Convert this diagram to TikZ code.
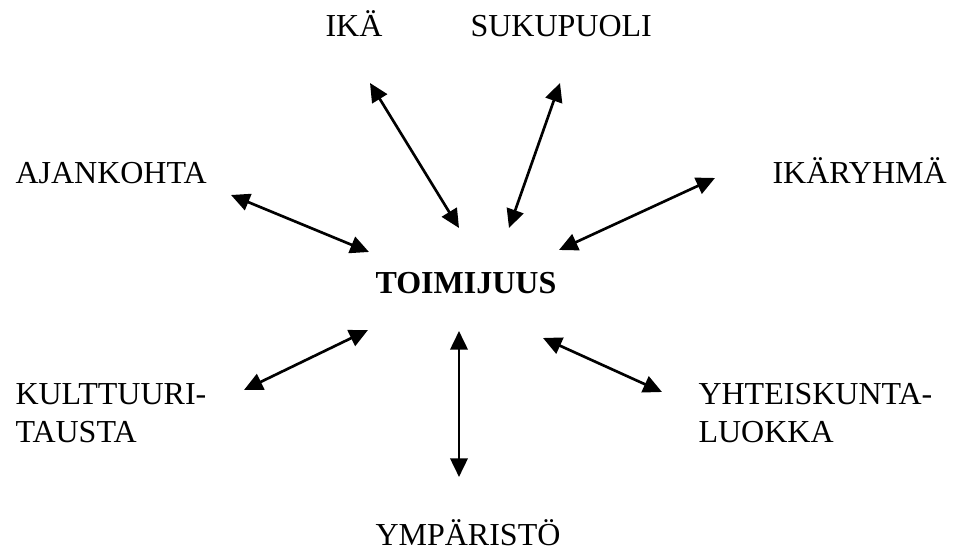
\documentclass[tikz,border=0pt]{standalone}
\usepackage{fontspec}
\setmainfont{Liberation Serif}
\usetikzlibrary{arrows.meta}

\begin{document}
\begin{tikzpicture}[x=0.375pt,y=-0.375pt,
		lbl/.style={anchor=base west,inner sep=0pt,align=left,font=\fontsize{12}{14.6}\selectfont},
		link/.style={line width=1pt,{Triangle[length=7pt,width=6.5pt]}-{Triangle[length=7pt,width=6.5pt]}}]
			%%%%% START %%%%%
			
			\useasboundingbox (0,0) rectangle (955,554);
			
			\node[lbl,font=\fontsize{12}{14.6}\selectfont\bfseries] (toimijuus) at (375,294) {TOIMIJUUS};
			
			\node[lbl] (ika) at (325,37) {IKÄ};
			\node[lbl] (sukupuoli) at (470,37) {SUKUPUOLI};
			\node[lbl] (ajankohta) at (15,184) {AJANKOHTA};
			\node[lbl] (ikaryhma) at (772,184) {IKÄRYHMÄ};
			\node[lbl] (kulttuuri) at (15,443) {KULTTUURI-\\TAUSTA};
			\node[lbl] (yhteiskunta) at (698,443) {YHTEISKUNTA-\\LUOKKA};
			\node[lbl] (ymparisto) at (375,546) {YMPÄRISTÖ};
			
			\coordinate (ajankohta-a) at (231,195);
			\coordinate (ajankohta-b) at (369,252);
			\coordinate (ika-a) at (370,83);
			\coordinate (ika-b) at (459,228);
			\coordinate (sukupuoli-a) at (560,83);
			\coordinate (sukupuoli-b) at (509,228);
			\coordinate (ikaryhma-a) at (715,178);
			\coordinate (ikaryhma-b) at (559,250);
			\coordinate (kulttuuri-a) at (244,390);
			\coordinate (kulttuuri-b) at (368,330);
			\coordinate (ymparisto-a) at (459,477);
			\coordinate (ymparisto-b) at (459,331);
			\coordinate (yhteiskunta-a) at (662,392);
			\coordinate (yhteiskunta-b) at (543,338);
			
			\draw[link] (ajankohta-a) -- (ajankohta-b);
			\draw[link] (ika-a) -- (ika-b);
			\draw[link] (sukupuoli-a) -- (sukupuoli-b);
			\draw[link] (ikaryhma-a) -- (ikaryhma-b);
			\draw[link] (kulttuuri-a) -- (kulttuuri-b);
			\draw[link] (ymparisto-a) -- (ymparisto-b);
			\draw[link] (yhteiskunta-a) -- (yhteiskunta-b);
			
			%%%%% END %%%%%
\end{tikzpicture}
\end{document}
